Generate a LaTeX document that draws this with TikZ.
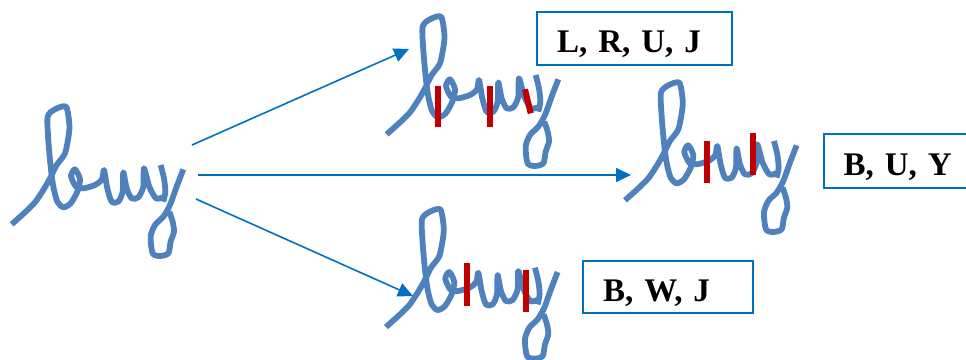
\documentclass[tikz,border=0pt]{standalone}
\usepackage{fontspec}
\setmainfont{Liberation Serif}
\usetikzlibrary{arrows.meta}
\definecolor{inkblue}{HTML}{4F81BD}
\definecolor{barred}{HTML}{C00000}
\definecolor{linkblue}{HTML}{0070C0}

\begin{document}
\begin{tikzpicture}[
  x=1pt, y=-1pt,
  >={Triangle[length=15pt, width=14pt]},
  inkline/.style={draw=inkblue, line width=5.8pt, line join=round, line cap=butt},
  cutbar/.style={draw=barred, line width=6pt},
  link/.style={->, draw=linkblue, line width=1.6pt},
  labelbox/.style={draw=linkblue, line width=2pt, anchor=north west, align=left, inner ysep=0pt, text height=28pt, text depth=0pt, font=\fontsize{33}{36}\selectfont\bfseries},
  pics/buyword/.style={code={
    \begin{scope}[x=0.3333pt, y=-0.3333pt]
    % l, e, r, u and the first arm of the y
    \draw[inkline] plot[smooth, tension=0.45] coordinates {
      (35,403) (75,367) (105,337) (130,300) (150,265) (170,225) (195,190) (207,130) (208,100) (198,50)
      (165,58) (143,80) (145,150) (152,230) (160,290) (172,335) (190,352) (212,340) (232,305) (240,268)
      (225,238) (213,258) (228,290) (250,295) (285,285) (306,268) (312,240) (322,295) (335,335) (355,335)
      (368,305) (370,247) (380,295) (395,325) (415,322) (430,290) (432,235) (448,290) (468,325) (488,322)
    };
    % Stem of the y
    \draw[inkline] plot[smooth, tension=0.45] coordinates {(482,225) (492,265) (496,305) (490,335)};
    % Tail of the y
    \draw[inkline] plot[smooth, tension=0.45] coordinates {
      (550,238) (530,290) (510,345) (490,380) (465,405) (452,440) (458,490) (480,498) (505,490) (512,455) (522,425) (518,395) (508,365)
    };
    \end{scope}
  }}
]
\useasboundingbox (0,0) rectangle (966,359);
% Source word
\pic at (0,90) {buyword};
% Split words
\pic at (375,0) {buyword};
\pic at (613.3,66) {buyword};
\pic at (374.3,192.7) {buyword};
% Cuts in the top word
\draw[cutbar] (438.3,86) -- (438.3,127.3);
\draw[cutbar] (490.3,86) -- (490.3,127.3);
\draw[cutbar] (525,89.3) -- (530.7,113.3);
% Cuts in the middle word
\draw[cutbar] (706.7,141) -- (706.7,183.3);
\draw[cutbar] (752.7,133.3) -- (752.7,175);
% Cuts in the bottom word
\draw[cutbar] (466.7,263.3) -- (466.7,305.7);
\draw[cutbar] (526.3,269.7) -- (526.3,311.7);
% Ends of the arrows
\coordinate (srcA) at (192,145);
\coordinate (srcB) at (198,175);
\coordinate (srcC) at (196,199);
\coordinate (dstA) at (409,49);
\coordinate (dstB) at (631,175);
\coordinate (dstC) at (413,296);
\draw[link] (srcA) -- (dstA);
\draw[link] (srcB) -- (dstB);
\draw[link] (srcC) -- (dstC);
% Letter boxes
\node[labelbox, minimum width=195pt, minimum height=53pt, text width=155pt, inner xsep=20pt] (boxA) at (536,10.5) {L, R, U, J};
\node[labelbox, minimum width=150pt, minimum height=54pt, text width=110pt, inner xsep=20pt] (boxB) at (822.5,133) {B, U, Y};
\node[labelbox, minimum width=170pt, minimum height=52pt, text width=130pt, inner xsep=20pt] (boxC) at (582,260) {B, W, J};
\end{tikzpicture}
\end{document}
